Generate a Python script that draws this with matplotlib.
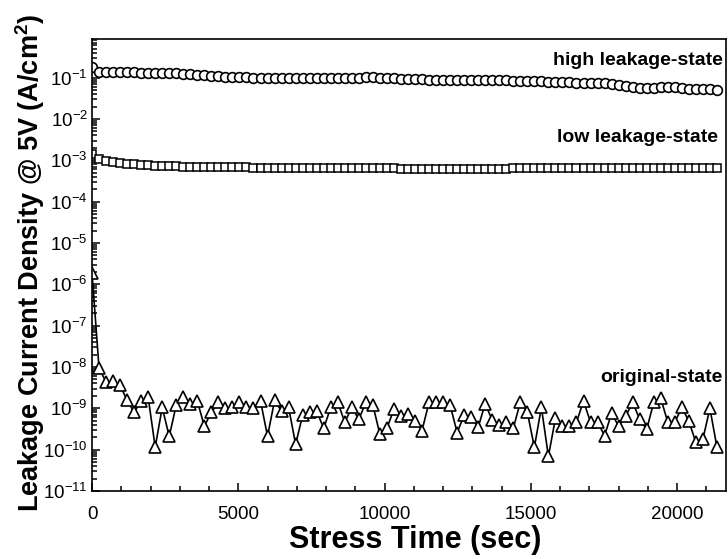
import matplotlib
matplotlib.use("Agg")
import matplotlib.pyplot as plt
from matplotlib.ticker import LogLocator, MultipleLocator, NullFormatter

plt.rcParams['font.family'] = ['Liberation Sans', 'DejaVu Sans']
plt.rcParams['mathtext.fontset'] = 'custom'
plt.rcParams['mathtext.rm'] = 'Liberation Sans'
plt.rcParams['mathtext.bf'] = 'Liberation Sans:bold'
plt.rcParams['axes.unicode_minus'] = False

# stress time (sec), one reading every 240 s
stress_time = [
    0, 240, 480, 720, 960, 1200, 1440, 1680, 1920, 2160,
    2400, 2640, 2880, 3120, 3360, 3600, 3840, 4080, 4320, 4560,
    4800, 5040, 5280, 5520, 5760, 6000, 6240, 6480, 6720, 6960,
    7200, 7440, 7680, 7920, 8160, 8400, 8640, 8880, 9120, 9360,
    9600, 9840, 10080, 10320, 10560, 10800, 11040, 11280, 11520, 11760,
    12000, 12240, 12480, 12720, 12960, 13200, 13440, 13680, 13920, 14160,
    14400, 14640, 14880, 15120, 15360, 15600, 15840, 16080, 16320, 16560,
    16800, 17040, 17280, 17520, 17760, 18000, 18240, 18480, 18720, 18960,
    19200, 19440, 19680, 19920, 20160, 20400, 20640, 20880, 21120, 21360,
]

# leakage current density @ 5V (A/cm2)
high_state = [
    0.18, 0.14, 0.138, 0.138, 0.137, 0.14, 0.136, 0.133, 0.13, 0.13,
    0.128, 0.127, 0.127, 0.125, 0.12, 0.117, 0.113, 0.11, 0.108, 0.106,
    0.105, 0.103, 0.102, 0.1, 0.1, 0.099, 0.098, 0.098, 0.097, 0.097,
    0.097, 0.096, 0.097, 0.097, 0.098, 0.098, 0.099, 0.1, 0.1, 0.101,
    0.102, 0.1, 0.099, 0.097, 0.095, 0.093, 0.092, 0.091, 0.09, 0.09,
    0.09, 0.089, 0.089, 0.09, 0.09, 0.089, 0.088, 0.087, 0.086, 0.086,
    0.085, 0.084, 0.083, 0.082, 0.081, 0.08, 0.078, 0.077, 0.077, 0.076,
    0.076, 0.075, 0.074, 0.073, 0.071, 0.068, 0.062, 0.058, 0.056, 0.056,
    0.057, 0.06, 0.061, 0.058, 0.055, 0.054, 0.053, 0.053, 0.052, 0.051,
]

low_state = [
    1.45e-3, 1.05e-3, 9.5e-4, 9.0e-4, 8.6e-4, 8.2e-4, 8.0e-4, 7.8e-4, 7.6e-4, 7.4e-4,
    7.3e-4, 7.2e-4, 7.1e-4, 7.0e-4, 7.0e-4, 6.9e-4, 6.9e-4, 6.8e-4, 6.8e-4, 6.8e-4,
    6.7e-4, 6.7e-4, 6.7e-4, 6.6e-4, 6.6e-4, 6.6e-4, 6.6e-4, 6.6e-4, 6.5e-4, 6.5e-4,
    6.5e-4, 6.5e-4, 6.5e-4, 6.5e-4, 6.5e-4, 6.5e-4, 6.4e-4, 6.4e-4, 6.4e-4, 6.4e-4,
    6.4e-4, 6.4e-4, 6.4e-4, 6.4e-4, 6.3e-4, 6.3e-4, 6.3e-4, 6.3e-4, 6.3e-4, 6.3e-4,
    6.3e-4, 6.3e-4, 6.3e-4, 6.3e-4, 6.3e-4, 6.3e-4, 6.3e-4, 6.3e-4, 6.3e-4, 6.3e-4,
    6.4e-4, 6.4e-4, 6.4e-4, 6.4e-4, 6.4e-4, 6.4e-4, 6.4e-4, 6.4e-4, 6.5e-4, 6.5e-4,
    6.5e-4, 6.5e-4, 6.5e-4, 6.5e-4, 6.5e-4, 6.5e-4, 6.5e-4, 6.6e-4, 6.6e-4, 6.6e-4,
    6.6e-4, 6.6e-4, 6.6e-4, 6.6e-4, 6.6e-4, 6.6e-4, 6.6e-4, 6.6e-4, 6.6e-4, 6.6e-4,
]

original_state = [
    1.9e-6, 9.5e-9, 4.3e-9, 4.5e-9, 3.6e-9, 1.56e-9, 8.0e-10, 1.5e-9, 1.85e-9, 1.15e-10,
    1.05e-9, 2.1e-10, 1.2e-9, 1.85e-9, 1.25e-9, 1.5e-9, 3.7e-10, 8.0e-10, 1.4e-9, 1.0e-9,
    1.05e-9, 1.4e-9, 1.1e-9, 1.0e-9, 1.5e-9, 2.1e-10, 1.56e-9, 8.5e-10, 1.05e-9, 1.35e-10,
    6.8e-10, 8.0e-10, 8.5e-10, 3.3e-10, 1.05e-9, 1.4e-9, 4.6e-10, 1.05e-9, 5.4e-10, 1.4e-9,
    1.2e-9, 2.35e-10, 3.3e-10, 9.5e-10, 6.4e-10, 7.2e-10, 4.9e-10, 2.9e-10, 1.4e-9, 1.4e-9,
    1.4e-9, 1.2e-9, 2.6e-10, 6.8e-10, 6.0e-10, 3.5e-10, 1.3e-9, 5.1e-10, 3.9e-10, 4.6e-10,
    3.3e-10, 1.4e-9, 8.0e-10, 1.15e-10, 1.05e-9, 6.9e-11, 5.7e-10, 3.7e-10, 3.7e-10, 4.6e-10,
    1.5e-9, 4.6e-10, 4.6e-10, 2.2e-10, 7.6e-10, 3.7e-10, 6.4e-10, 1.4e-9, 5.4e-10, 3.1e-10,
    1.4e-9, 1.75e-9, 4.6e-10, 4.6e-10, 1.05e-9, 4.9e-10, 1.5e-10, 1.8e-10, 1.0e-9, 1.15e-10,
]

fig = plt.figure(figsize=(7.28, 5.59), dpi=100)
ax = fig.add_axes([92 / 728, 68 / 559, 634 / 728, 452 / 559])

ax.plot(stress_time, high_state, color='black', lw=1, marker='o', ms=7,
        mfc='white', mec='black', mew=1.2)
ax.plot(stress_time, low_state, color='black', lw=1, marker='s', ms=5.8,
        mfc='white', mec='black', mew=1.1)
ax.plot(stress_time, original_state, color='black', lw=1.2, marker='^', ms=8,
        mfc='white', mec='black', mew=1.2)

ax.set_yscale('log')
ax.set_xlim(0, 21670)
ax.set_ylim(1e-11, 0.86)

ax.xaxis.set_major_locator(MultipleLocator(5000))
ax.xaxis.set_minor_locator(MultipleLocator(1000))
ax.yaxis.set_major_locator(LogLocator(base=10, numticks=20))
ax.yaxis.set_minor_locator(LogLocator(base=10, subs=range(2, 10), numticks=20))
ax.yaxis.set_minor_formatter(NullFormatter())

ax.tick_params(which='both', direction='in', top=False, right=False,
               labelsize=13.5, width=1.1)
ax.tick_params(axis='x', which='both', pad=11)
ax.tick_params(axis='y', which='both', pad=3)
ax.tick_params(which='major', length=6)
ax.tick_params(which='minor', length=3.5)
for sp in ax.spines.values():
    sp.set_linewidth(1.2)

fig.text(415 / 728, 1 - 540 / 559, 'Stress Time (sec)', ha='center', va='center',
         fontsize=22, fontweight='bold')
fig.text(30 / 728, 1 - 263 / 559, r'Leakage Current Density @ 5V (A/cm$^\mathbf{2}$)',
         rotation=90, ha='center', va='center', fontsize=19.5, fontweight='bold')

ax.text(0.995, 0.952, 'high leakage-state', transform=ax.transAxes,
        ha='right', va='center', fontsize=14, fontweight='bold')
ax.text(0.988, 0.781, 'low leakage-state', transform=ax.transAxes,
        ha='right', va='center', fontsize=14, fontweight='bold')
ax.text(0.995, 0.252, 'original-state', transform=ax.transAxes,
        ha='right', va='center', fontsize=14, fontweight='bold')

fig.savefig('out.png', dpi=100)
